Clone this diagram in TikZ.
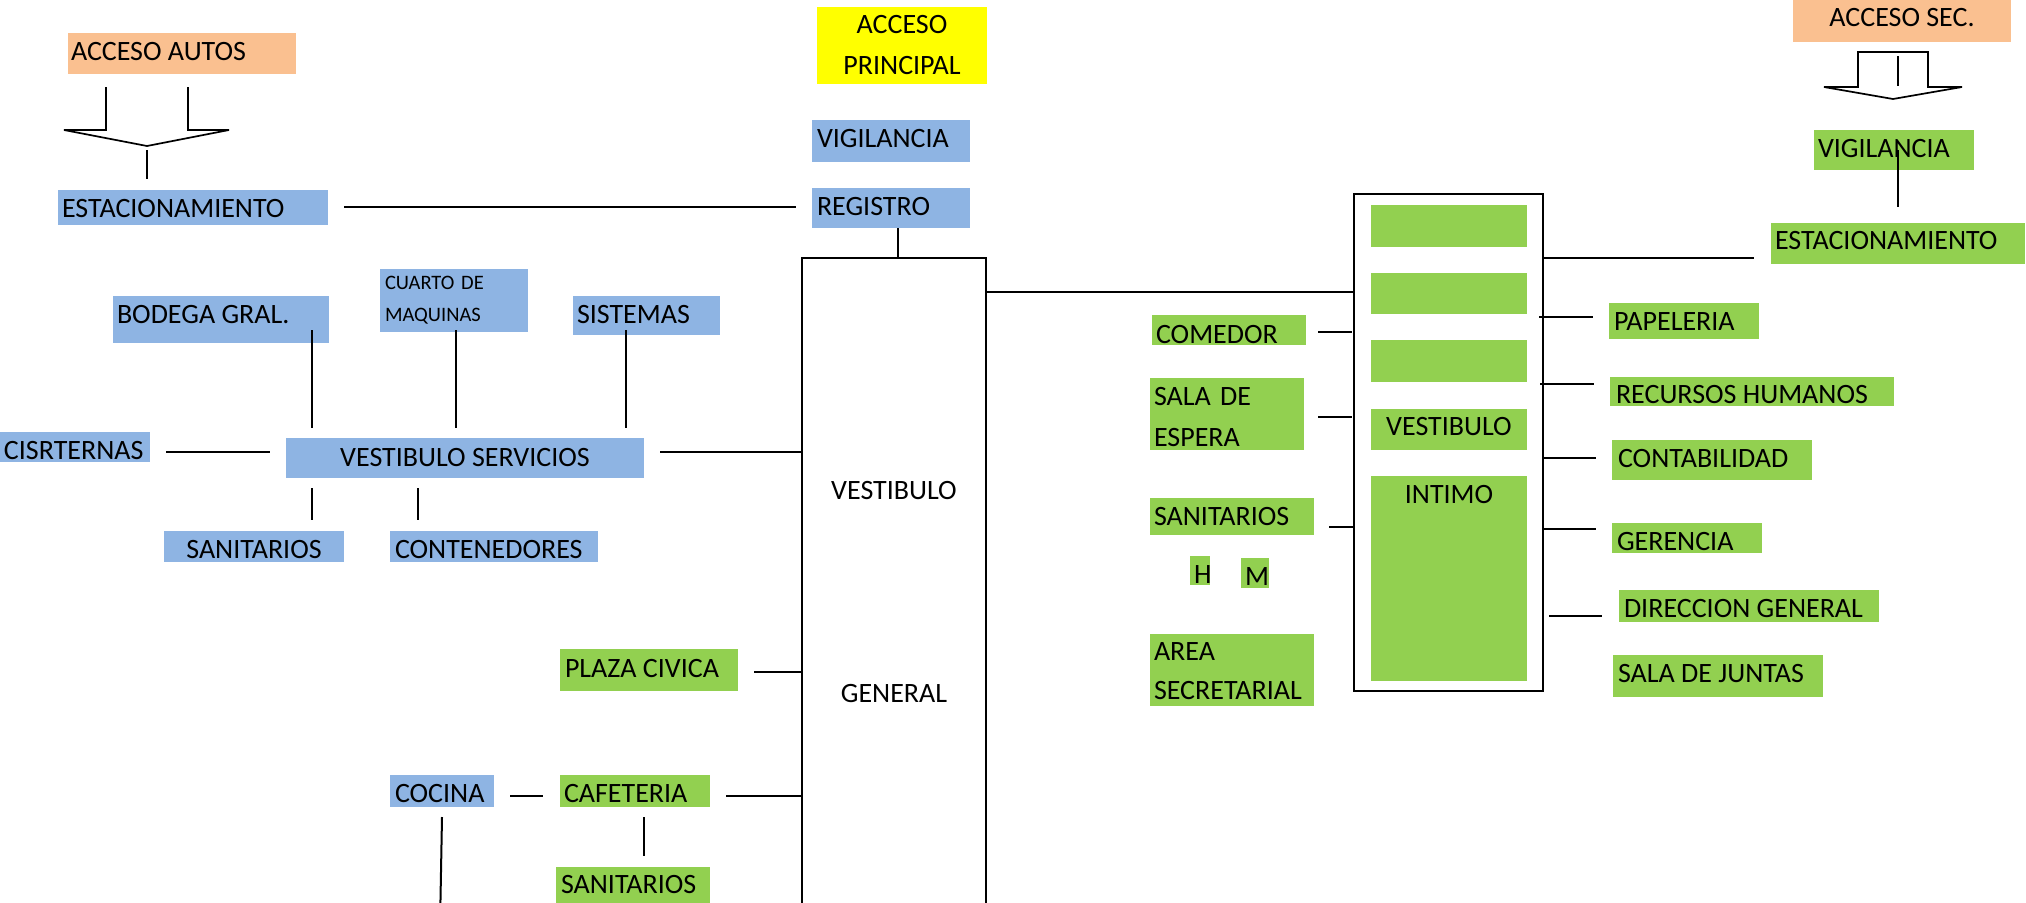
\documentclass[tikz,border=0pt]{standalone}
\usepackage{fontspec}
\setmainfont{Carlito}
\definecolor{cblue}{HTML}{8EB4E3}
\definecolor{cgreen}{HTML}{92D050}
\definecolor{cpeach}{HTML}{FAC090}
\definecolor{cyellow}{HTML}{FFFF00}
\newcommand\fsbig{\fontsize{28}{41}\selectfont}
\newcommand\fssmall{\fontsize{20.5}{32}\selectfont}
\tikzset{
  bx/.style={anchor=north west, inner sep=0pt, outer sep=0pt},
  sz/.style 2 args={minimum width=#1pt, minimum height=#2pt},
  bl/.style={bx, fill=cblue},
  gr/.style={bx, fill=cgreen},
  pe/.style={bx, fill=cpeach},
  ye/.style={bx, fill=cyellow},
  ol/.style={bx, draw=black, line width=2pt, fill=white},
  tx/.style={font=\fsbig, inner sep=0pt, outer sep=0pt, anchor=base west},
  tc/.style={tx, anchor=base},
  ln/.style={line width=2pt},
  ar/.style={line width=1.7pt, line join=miter},
}
\begin{document}
\begin{tikzpicture}[x=1pt,y=-1pt]
\clip (0,0) rectangle (2026,902);
\fill[white] (0,0) rectangle (2026,902);

% outlined boxes
\node[ol, sz={184}{700}] (vg) at (802,258) {};
\node[ol, sz={189}{497}] (intb) at (1354,194) {};

% peach / yellow
\node[pe, sz={228}{41}] (accA) at (68,33) {};
\node[pe, sz={218}{44}] (accS) at (1793,-2) {};
\node[ye, sz={170}{77}] (accP) at (817,7) {};

% blue boxes
\node[bl, sz={158}{42}] (vig) at (812,120) {};
\node[bl, sz={158}{40}] (reg) at (812,188) {};
\node[bl, sz={270}{35}] (est) at (58,190) {};
\node[bl, sz={216}{47}] (bod) at (113,296) {};
\node[bl, sz={148}{63}] (cua) at (380,269) {};
\node[bl, sz={147}{39}] (sis) at (573,296) {};
\node[bl, sz={152}{30}] (cis) at (-2,432) {};
\node[bl, sz={358}{40}] (vs) at (286,438) {};
\node[bl, sz={180}{31}] (san1) at (164,531) {};
\node[bl, sz={208}{31}] (con) at (390,531) {};
\node[bl, sz={104}{32}] (coc) at (390,775) {};

% green boxes
\node[gr, sz={178}{42}] (plz) at (560,649) {};
\node[gr, sz={150}{32}] (caf) at (560,775) {};
\node[gr, sz={154}{45}] (san2) at (556,867) {};
\node[gr, sz={154}{30}] (com) at (1152,315) {};
\node[gr, sz={154}{72}] (sal) at (1150,378) {};
\node[gr, sz={164}{37}] (san3) at (1150,498) {};
\node[gr, sz={20}{29}] (h) at (1190,556) {};
\node[gr, sz={28}{30}] (m) at (1241,558) {};
\node[gr, sz={164}{72}] (area) at (1150,634) {};
\node[gr, sz={156}{42}] (g1) at (1371,205) {};
\node[gr, sz={156}{41}] (g2) at (1371,273) {};
\node[gr, sz={156}{42}] (g3) at (1371,340) {};
\node[gr, sz={156}{41}] (vi) at (1371,409) {};
\node[gr, sz={156}{205}] (int) at (1371,476) {};
\node[gr, sz={160}{40}] (vig2) at (1814,130) {};
\node[gr, sz={254}{41}] (est2) at (1771,223) {};
\node[gr, sz={150}{36}] (pap) at (1609,303) {};
\node[gr, sz={284}{29}] (rec) at (1610,377) {};
\node[gr, sz={200}{40}] (cont) at (1612,440) {};
\node[gr, sz={150}{30}] (ger) at (1612,523) {};
\node[gr, sz={260}{32}] (dir) at (1619,590) {};
\node[gr, sz={210}{42}] (junt) at (1613,655) {};

% texts
\node[tx] (accAT) at (71,60) {ACCESO AUTOS};
\node[tc] (accST) at (1902,27) {ACCESO SEC.};
\node[tc, text width=170pt, align=center] (accPT) at (902,33) {ACCESO\\PRINCIPAL};
\node[tx] (vigT) at (817,147) {VIGILANCIA};
\node[tx] (regT) at (817,215) {REGISTRO};
\node[tx] (estT) at (62,217) {ESTACIONAMIENTO};
\node[tx] (bodT) at (117,323) {BODEGA GRAL.};
\node[tx, font=\fssmall, text width=145pt, align=left] (cuaT) at (385,289) {CUARTO DE\\MAQUINAS};
\node[tx] (sisT) at (577,323) {SISTEMAS};
\node[tx] (cisT) at (4,459) {CISRTERNAS};
\node[tc] (vsT) at (465,466) {VESTIBULO SERVICIOS};
\node[tc] (san1T) at (254,558) {SANITARIOS};
\node[tx] (conT) at (395,558) {CONTENEDORES};
\node[tx] (cocT) at (395,802) {COCINA};
\node[tx] (plzT) at (565,677) {PLAZA CIVICA};
\node[tx] (cafT) at (564,802) {CAFETERIA};
\node[tx] (san2T) at (561,893) {SANITARIOS};
\node[tx] (comT) at (1156,343) {COMEDOR};
\node[tx, text width=150pt, align=left] (salT) at (1154,405) {SALA DE\\ESPERA};
\node[tx] (san3T) at (1154,525) {SANITARIOS};
\node[tx] (hT) at (1194,583) {H};
\node[tx] (mT) at (1245,585) {M};
\node[tx, text width=160pt, align=left] (areaT) at (1154,660) {AREA\\[-2pt]SECRETARIAL};
\node[tc] (viT) at (1449,435) {VESTIBULO};
\node[tc] (intT) at (1449,503) {INTIMO};
\node[tx] (vig2T) at (1818,157) {VIGILANCIA};
\node[tx] (est2T) at (1775,249) {ESTACIONAMIENTO};
\node[tx] (papT) at (1614,330) {PAPELERIA};
\node[tx] (recT) at (1616,403) {RECURSOS HUMANOS};
\node[tx] (contT) at (1618,467) {CONTABILIDAD};
\node[tx] (gerT) at (1617,550) {GERENCIA};
\node[tx] (dirT) at (1624,617) {DIRECCION GENERAL};
\node[tx] (juntT) at (1618,682) {SALA DE JUNTAS};
\node[tc] (vgT1) at (894,499) {VESTIBULO};
\node[tc] (vgT2) at (894,702) {GENERAL};

% block arrows
\coordinate (tipA) at (147,146);
\draw[ar] (106,87) -- (106,130) -- (64,130) -- (tipA) -- (229,130) -- (188,130) -- (188,87);
\coordinate (tipS) at (1893,99);
\draw[ar] (1858,52) -- (1928,52) -- (1928,87) -- (1962,87) -- (tipS) -- (1824,87) -- (1858,87) -- cycle;
\draw[ar] (1898,56) -- (1898,86);

% connectors
\draw[ln] ([yshift=-4]tipA) -- ([yshift=11]tipA |- est.north);
\draw[ln] ([xshift=16,yshift=1]est.east) -- ([xshift=-16,yshift=1]reg.west |- est.east);
\draw[ln] ([xshift=7]reg.south) -- ([xshift=7]reg.south |- vg.north);
\draw[ln] ([yshift=-34]vg.north east) -- ([yshift=-34]vg.north east -| intb.west);
\draw[ln] ([yshift=-64]intb.north east) -- ([yshift=-64,xshift=-17]intb.north east -| est2.west);
\draw[ln] (vig2.center -| est2.north) -- ([yshift=16]est2.north);

\draw[ln] ([xshift=-17,yshift=13]bod.south east) -- ([xshift=-17,yshift=10]bod.south east |- vs.north);
\draw[ln] ([xshift=2,yshift=2]cua.south) -- ([xshift=2,yshift=10]cua.south |- vs.north);
\draw[ln] ([xshift=-20.5,yshift=5]sis.south) -- ([xshift=-20.5,yshift=10]sis.south |- vs.north);
\draw[ln] ([xshift=16,yshift=6]vs.west -| cis.east) -- ([xshift=-16,yshift=6]vs.west);
\draw[ln] ([xshift=16,yshift=6]vs.east) -- ([yshift=6]vs.east -| vg.west);
\draw[ln] ([xshift=-153,yshift=-10]vs.south) -- ([xshift=-153,yshift=11]vs.south |- san1.north);
\draw[ln] ([xshift=-47,yshift=-10]vs.south) -- ([xshift=-47,yshift=11]vs.south |- con.north);

\draw[ln] ([xshift=16,yshift=-2]plz.east) -- ([yshift=-2]plz.east -| vg.west);
\draw[ln] ([xshift=16,yshift=-5]coc.east) -- ([xshift=-17,yshift=-5]coc.east -| caf.west);
\draw[ln] ([xshift=16,yshift=-5]caf.east) -- ([yshift=-5]caf.east -| vg.west);
\draw[ln] ([xshift=9,yshift=-10]caf.south) -- ([xshift=9,yshift=11]caf.south |- san2.north);
\draw[ln] ([yshift=-10]coc.south) -- ([xshift=-2,yshift=-120]coc.south);

\draw[ln] ([xshift=12,yshift=-2]com.east) -- ([xshift=-2,yshift=-2]com.east -| intb.west);
\draw[ln] ([xshift=14,yshift=-3]sal.east) -- ([xshift=-2,yshift=-3]sal.east -| intb.west);
\draw[ln] ([xshift=15,yshift=-10.5]san3.east) -- ([yshift=-10.5]san3.east -| intb.west);

\draw[ln] ([xshift=-4,yshift=4]pap.west -| intb.east) -- ([xshift=-16,yshift=4]pap.west);
\draw[ln] ([xshift=-3,yshift=7.5]rec.west -| intb.east) -- ([xshift=-16,yshift=7.5]rec.west);
\draw[ln] ([yshift=2]cont.west -| intb.east) -- ([xshift=-16,yshift=2]cont.west);
\draw[ln] ([yshift=9]ger.west -| intb.east) -- ([xshift=-16,yshift=9]ger.west);
\draw[ln] ([xshift=6,yshift=-10]dir.west -| intb.east) -- ([xshift=-17,yshift=-10]dir.west);
\end{tikzpicture}
\end{document}
